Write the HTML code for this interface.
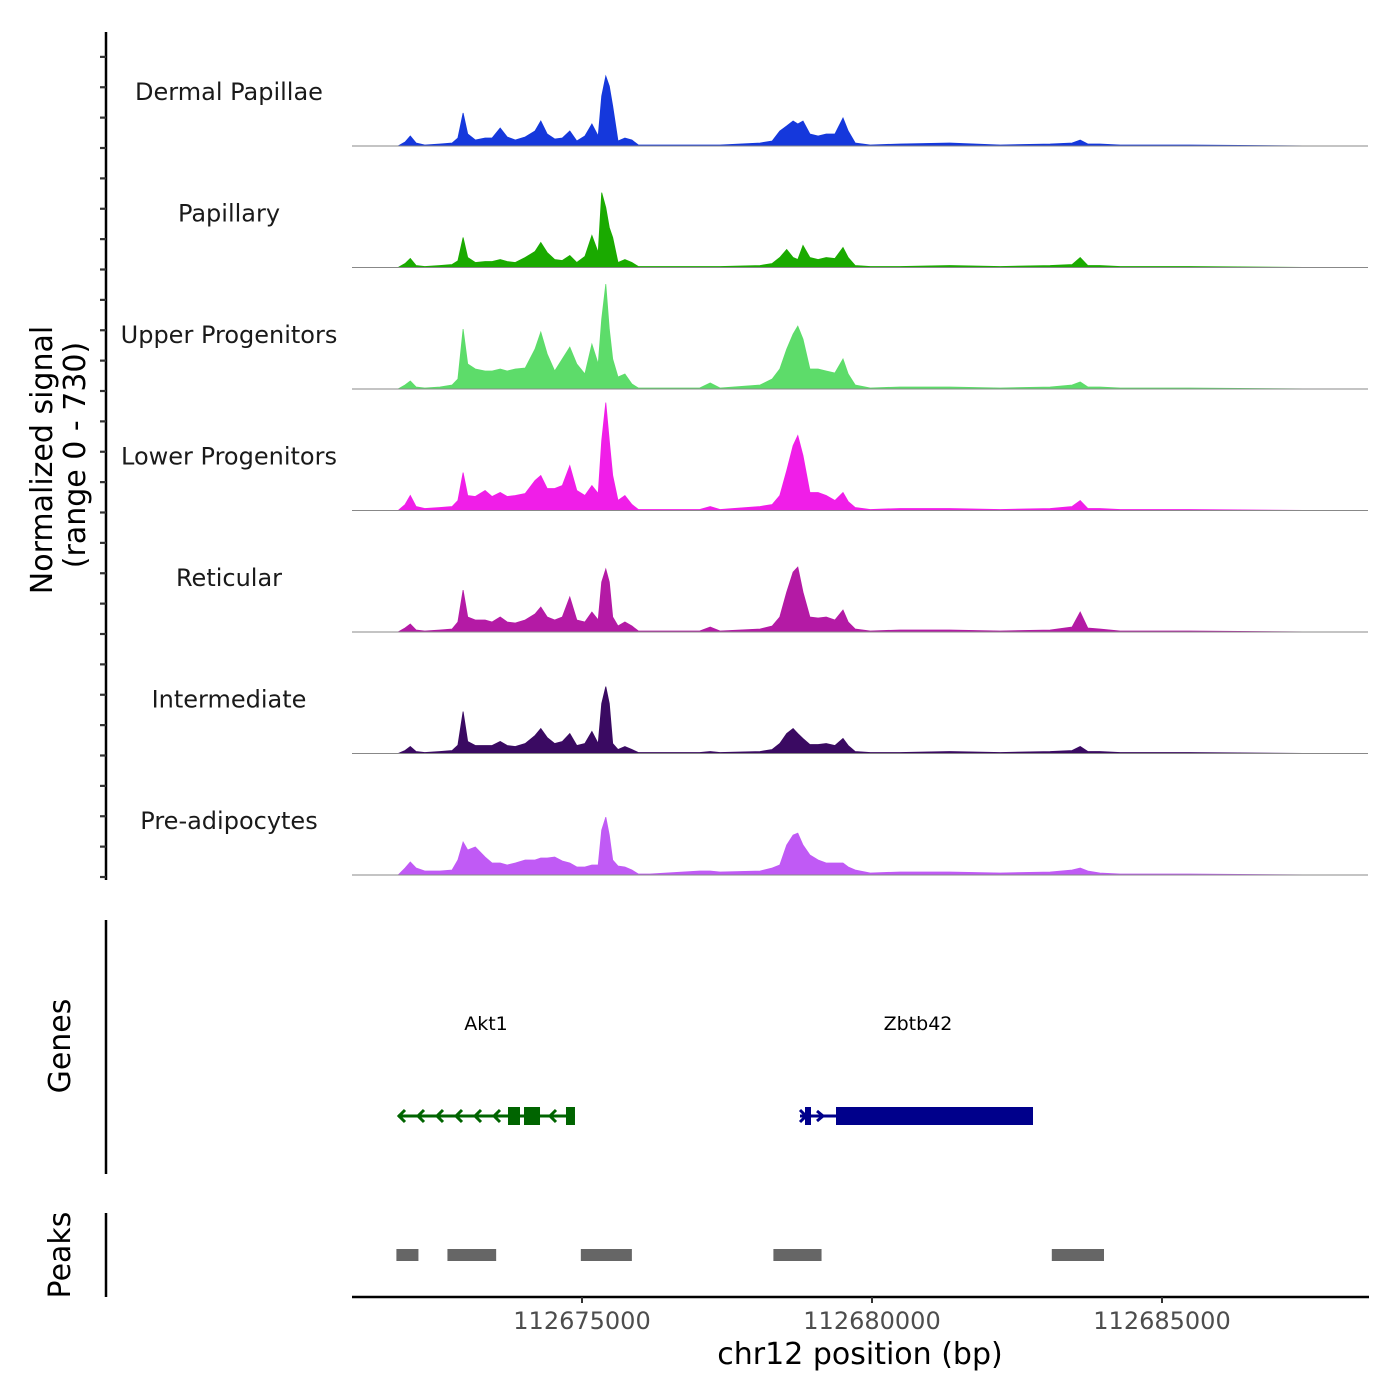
<!DOCTYPE html>
<html><head><meta charset="utf-8"><style>
html,body{margin:0;padding:0;background:#fff;}
svg{display:block;font-family:"DejaVu Sans","Liberation Sans",sans-serif;}
</style></head><body>
<svg id="chart" width="1400" height="1400" viewBox="0 0 1400 1400">
<g id="tracks"></g>
<g id="leftaxes"></g>
<text transform="translate(52,460) rotate(-90)" text-anchor="middle" font-size="30" fill="#000">Normalized signal</text>
<text transform="translate(85,455) rotate(-90)" text-anchor="middle" font-size="30" fill="#000">(range 0 - 730)</text>
<text transform="translate(70,1046) rotate(-90)" text-anchor="middle" font-size="30" fill="#000">Genes</text>
<text transform="translate(70,1255) rotate(-90)" text-anchor="middle" font-size="30" fill="#000">Peaks</text>
<g id="genes"></g>
<g id="peaks"></g>
<g id="xaxis"></g>
<text x="860" y="1364" text-anchor="middle" font-size="30" fill="#000">chr12 position (bp)</text>
</svg>
<script>
const positions = [112671830,112671950,112672040,112672140,112672290,112672550,112672760,112672860,112672950,112673030,112673160,112673330,112673450,112673590,112673710,112673850,112674020,112674190,112674290,112674400,112674530,112674660,112674790,112674910,112675050,112675170,112675280,112675340,112675410,112675470,112675530,112675620,112675740,112675860,112675970,112676170,112677030,112677210,112677380,112678070,112678280,112678410,112678530,112678640,112678720,112678810,112678930,112679070,112679210,112679360,112679500,112679590,112679710,112679970,112680480,112681340,112682210,112683070,112683450,112683590,112683720,112683930,112684280,112685480,112687720,112687810];
const trackNames = ["Dermal Papillae","Papillary","Upper Progenitors","Lower Progenitors","Reticular","Intermediate","Pre-adipocytes"];
const trackColors = ["#1538dc","#1aaa00","#5ddc6a","#f01ee8","#b41aa5","#3a0a62","#c05af5"];
const dermalPapillae = [0,24,60,18,6,12,18,48,198,72,36,48,48,108,54,36,54,90,150,72,42,48,90,30,60,132,60,300,420,360,240,30,48,36,6,6,6,6,6,18,30,90,120,150,132,150,72,60,72,72,168,90,18,6,12,18,6,12,18,36,12,12,6,6,0,0];
const papillary = [0,24,54,12,6,12,18,40,180,60,30,36,36,48,36,30,60,96,150,90,48,42,72,30,66,192,90,450,360,240,180,30,48,30,6,6,6,6,6,12,24,60,108,60,48,132,60,48,60,54,120,60,12,6,6,12,6,12,18,60,12,12,6,6,0,0];
const upperProgenitors = [0,24,48,12,6,12,24,60,360,150,120,108,108,120,108,120,126,240,342,210,108,180,252,150,90,270,150,420,630,360,180,72,90,30,6,6,6,36,6,24,60,120,240,330,378,300,120,120,108,96,180,90,24,6,12,12,6,12,24,42,12,12,6,6,0,0];
const lowerProgenitors = [0,36,90,24,12,18,24,60,228,90,84,120,84,108,84,90,102,180,210,132,132,150,270,120,90,150,102,420,648,420,210,60,90,36,6,6,6,24,6,24,36,90,240,390,450,330,108,108,90,60,108,54,18,6,12,12,6,12,24,60,12,12,6,6,0,0];
const reticular = [0,24,48,12,6,12,18,60,252,90,72,72,60,90,60,54,72,108,150,90,72,90,210,72,60,120,72,300,378,300,90,36,60,36,6,6,6,30,6,18,36,90,240,360,390,240,90,84,90,72,132,60,18,6,12,12,6,12,30,120,24,18,6,6,0,0];
const intermediate = [0,18,42,12,6,12,18,50,252,72,48,48,48,72,48,42,60,108,150,96,60,72,120,48,60,132,60,300,402,300,60,24,42,24,6,6,6,12,6,12,24,60,120,150,120,90,54,54,60,48,90,48,12,6,6,12,6,12,18,42,12,12,6,6,0,0];
const preAdipocytes = [0,42,78,42,24,24,30,90,198,150,168,108,72,72,60,72,90,90,102,102,108,84,72,48,48,60,60,270,348,240,90,54,48,30,6,6,24,24,18,24,42,60,180,240,252,180,120,90,72,72,72,48,30,12,18,18,12,18,30,42,24,12,6,6,0,0];
const trackValues = [dermalPapillae,papillary,upperProgenitors,lowerProgenitors,reticular,intermediate,preAdipocytes];
const xTicks = [112675000,112680000,112685000];
const peakStarts = [112671800,112672680,112674980,112678300,112683100];
const peakEnds = [112672180,112673520,112675860,112679130,112684000];
const exonAkt1Starts = [112673724,112674000,112674724];
const exonAkt1Ends = [112673931,112674276,112674879];

const NS="http://www.w3.org/2000/svg";
const xScale = bp => 582 + (bp - 112675000) * 0.058;
const yRange = 730, trackH = 121.5;
const baseY = i => 146 + i * trackH;
function el(tag, attrs, parent){const e=document.createElementNS(NS,tag);for(const k in attrs)e.setAttribute(k,attrs[k]);parent.appendChild(e);return e;}

const tracks=document.getElementById('tracks');
trackValues.forEach((vals,i)=>{
  const b=baseY(i);
  const g=el('g',{},tracks);
  
  
  let d='M'+xScale(positions[0]).toFixed(1)+','+b;
  vals.forEach((v,j)=>{d+=' L'+xScale(positions[j]).toFixed(1)+','+(b - v/yRange*trackH).toFixed(1);});
  d+=' L'+xScale(positions[positions.length-1]).toFixed(1)+','+b+' Z';
  const p=el('path',{d:d,fill:trackColors[i],stroke:trackColors[i],'stroke-width':0.8},g);
  
  
  const ln=el('line',{x1:352,x2:1368,y1:b,y2:b,stroke:'#888','stroke-width':1},g);
  
  
  const t=el('text',{x:229,y:b-46,'text-anchor':'middle','font-size':24,fill:'#1a1a1a'},g);
  t.textContent=trackNames[i];
  
  
});

const la=document.getElementById('leftaxes');
el('line',{x1:106,x2:106,y1:32,y2:880,stroke:'#000','stroke-width':2.5},la);
for(let y=baseY(6)+2; y>40; y-=trackH/4){
  const tk=el('line',{x1:100,x2:106,y1:y,y2:y,stroke:'#333','stroke-width':2.2},la);
  
  
}
el('line',{x1:106,x2:106,y1:920,y2:1174,stroke:'#000','stroke-width':2.5},la);
el('line',{x1:106,x2:106,y1:1213,y2:1297,stroke:'#000','stroke-width':2.5},la);

const genes=document.getElementById('genes');
const green='#006400', navy='#00008b';
let t1=el('text',{x:486,y:1030,'text-anchor':'middle','font-size':19,fill:'#000'},genes);t1.textContent='Akt1';

let t2=el('text',{x:918,y:1030,'text-anchor':'middle','font-size':19,fill:'#000'},genes);t2.textContent='Zbtb42';

const gy=1116;
el('line',{x1:398,x2:575,y1:gy,y2:gy,stroke:green,'stroke-width':3},genes);
[399,418,437,456,475,494,550].forEach(x=>{el('polyline',{points:(x+6)+','+(gy-6)+' '+x+','+gy+' '+(x+6)+','+(gy+6),fill:'none',stroke:green,'stroke-width':3},genes);});
exonAkt1Starts.forEach((s,k)=>{const r=el('rect',{x:xScale(s),y:gy-9,width:xScale(exonAkt1Ends[k])-xScale(s),height:18,fill:green},genes);});
el('line',{x1:800,x2:1033,y1:gy,y2:gy,stroke:navy,'stroke-width':3},genes);
el('polyline',{points:'800,1110 806,1116 800,1122',fill:'none',stroke:navy,'stroke-width':3},genes);
el('polyline',{points:'817,1111 823,1116 817,1121',fill:'none',stroke:navy,'stroke-width':3},genes);
el('rect',{x:805,y:gy-9,width:6,height:18,fill:navy},genes);
const zb=el('rect',{x:836,y:gy-9,width:197,height:18,fill:navy},genes);


const peaks=document.getElementById('peaks');
peakStarts.forEach((s,k)=>{
  const r=el('rect',{x:xScale(s),y:1249,width:xScale(peakEnds[k])-xScale(s),height:12,fill:'#666'},peaks);
  
  
});

const xa=document.getElementById('xaxis');
el('line',{x1:352,x2:1369,y1:1297,y2:1297,stroke:'#000','stroke-width':2.5},xa);
xTicks.forEach(v=>{
  const x=xScale(v);
  el('line',{x1:x,x2:x,y1:1297,y2:1303,stroke:'#333','stroke-width':2},xa);
  const t=el('text',{x:x,y:1329,'text-anchor':'middle','font-size':24,fill:'#4d4d4d'},xa);
  t.textContent=String(v);
  
  
});
</script>
</body></html>
